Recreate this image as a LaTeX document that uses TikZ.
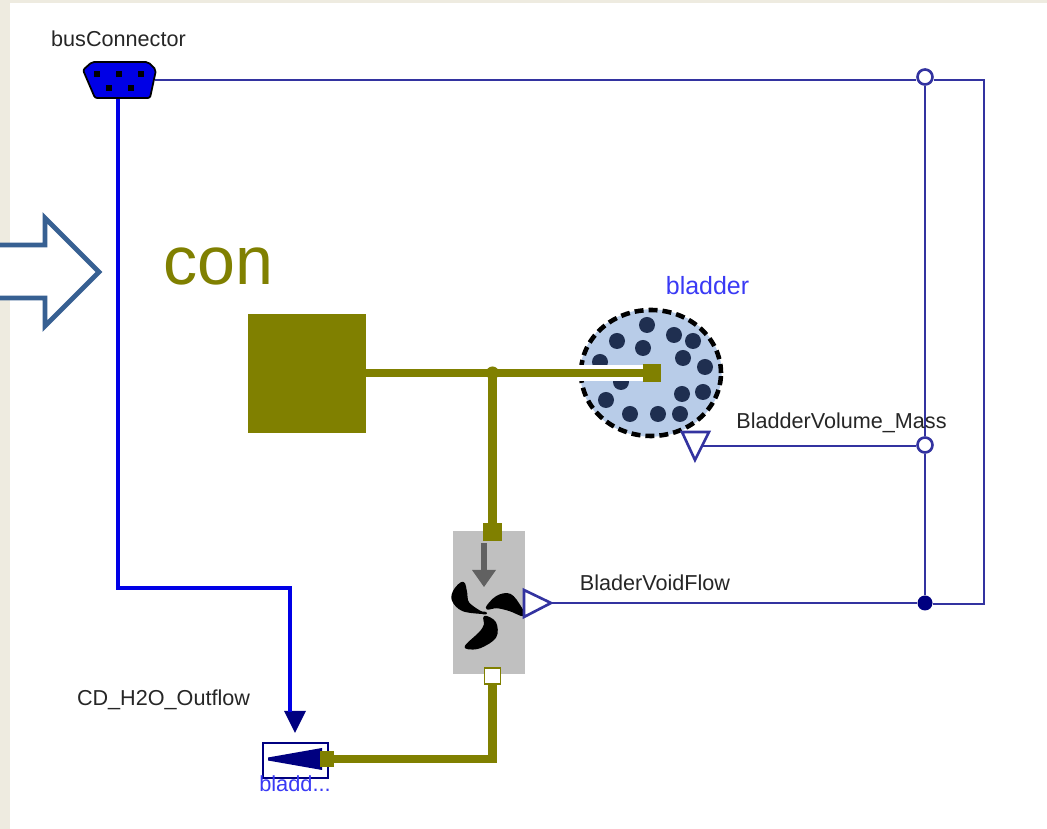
\documentclass[tikz,border=0pt]{standalone}
\usepackage{fontspec}
\setmainfont{Liberation Sans}
\usetikzlibrary{positioning, shapes.geometric}
\definecolor{pagebeige}{HTML}{EEEBE0}
\definecolor{conolive}{HTML}{808000}
\definecolor{signavy}{HTML}{3333A0}
\definecolor{iconnavy}{HTML}{000080}
\definecolor{busblue}{HTML}{0000E6}
\definecolor{namblue}{HTML}{3A3AF5}
\definecolor{bladfill}{HTML}{B8CCE8}
\definecolor{baldot}{HTML}{1F2F50}
\definecolor{fangray}{HTML}{C0C0C0}
\definecolor{callout}{HTML}{376092}
\tikzset{
	smalltext/.style={font=\fontsize{6.15}{7.5}\selectfont, text=black!85, inner sep=0pt},
	nametext/.style={font=\fontsize{7.1}{8.5}\selectfont, text=namblue, inner sep=0pt},
	sigline/.style={draw=signavy, line width=0.75pt},
	flowline/.style={draw=conolive, line width=2.3pt},
	busline/.style={draw=busblue, line width=1pt},
	portbox/.style={draw=conolive, fill=conolive, line width=0.4pt, inner sep=0pt, minimum size=0.17cm},
	junction/.style={circle, inner sep=0pt, minimum size=0.15cm},
	bladeshape/.style={fill=black, draw=black, line width=0.7pt, line join=round}
}
\newcommand{\ballat}[2]{\fill[baldot] (#1,#2) circle (0.08);}
\newcommand{\pinat}[2]{\fill[black] (#1,#2) +(-0.03,-0.03) rectangle +(0.03,0.03);}
\begin{document}
\begin{tikzpicture}
      \useasboundingbox (0,0) rectangle (10.47,-8.29);
      \fill[pagebeige] (0,0) rectangle (10.47,-8.29);
      \fill[white] (0.10,-0.03) rectangle (10.47,-8.29);
      % callout
      \draw[callout, line width=1.4pt, fill=white, miter limit=10] (-0.1,-2.45) -- (0.45,-2.45) -- (0.45,-2.18) -- (0.99,-2.72) -- (0.45,-3.26) -- (0.45,-2.98) -- (-0.1,-2.98);
      \node[font=\fontsize{19.4}{22}\selectfont, text=conolive, inner sep=0pt] (conLabel) at (2.18,-2.66) {con};
      % bus
      \draw[black, line width=0.5pt, fill=busblue, rounded corners=0.6pt] (0.92,-0.62) -- (1.48,-0.62) -- (1.56,-0.70) -- (1.50,-0.98) -- (0.95,-0.98) -- (0.83,-0.70) -- cycle;
      \node[inner sep=0pt, minimum width=0.72cm, minimum height=0.36cm] (busConnector) at (1.18,-0.80) {};
      \pinat{0.97}{-0.74} \pinat{1.19}{-0.74} \pinat{1.41}{-0.74} \pinat{1.09}{-0.88} \pinat{1.31}{-0.88}
      \node[smalltext] (busLabel) at (1.185,-0.39) {busConnector};
      % bladder
      \draw[bladfill, fill=bladfill] (6.51,-3.73) ellipse (0.70 and 0.63);
      \foreach \bx/\by in {6.47/3.25, 6.17/3.41, 6.43/3.48, 6.74/3.35, 6.93/3.41, 6.00/3.62, 6.83/3.58, 7.05/3.67, 6.21/3.82, 7.03/3.92, 6.82/3.94, 6.06/4.00, 6.30/4.14, 6.58/4.14, 6.80/4.14}
        \ballat{\bx}{-\by};
      \draw[black, line width=1.3pt, dash pattern=on 0.09cm off 0.05cm] (6.51,-3.73) ellipse (0.70 and 0.63);
      \fill[white] (5.72,-3.65) rectangle (6.43,-3.81);
      \node[nametext] (bladderLabel) at (7.075,-2.86) {bladder};
      % con source and wires
      \node[draw=conolive, fill=conolive, inner sep=0pt, minimum size=1.17cm] (conSquare) at (3.07,-3.735) {};
      \node[portbox] (bladderPort) at (6.52,-3.73) {};
      \node[junction, fill=conolive, minimum size=0.13cm] (flowJunc) at (4.925,-3.73) {};
      \draw[flowline] (conSquare.east |- bladderPort) -- (bladderPort);
      % fan
      \node[fill=fangray, inner sep=0pt, minimum width=0.72cm, minimum height=1.43cm] (fanBody) at (4.89,-6.025) {};
      \node[portbox] (fanTop) at (4.925,-5.32) {};
      \node[portbox, fill=white, minimum size=0.16cm] (fanBottom) at (4.925,-6.76) {};
      \draw[flowline] (flowJunc.center) -- (fanTop);
      \fill[black!62] (4.81,-5.43) rectangle (4.87,-5.71);
      \fill[black!62] (4.72,-5.70) -- (4.96,-5.70) -- (4.84,-5.87) -- cycle;
      \draw[bladeshape] plot[smooth cycle, tension=0.6] coordinates {(4.85,-6.13) (4.63,-6.10) (4.53,-6.00) (4.55,-5.90) (4.63,-5.83) (4.66,-5.93) (4.68,-6.03) (4.80,-6.12)};
      \draw[bladeshape] plot[smooth cycle, tension=0.6] coordinates {(4.87,-6.08) (4.97,-5.97) (5.10,-5.95) (5.20,-6.07) (5.23,-6.15) (5.10,-6.10) (4.97,-6.07)};
      \draw[bladeshape] plot[smooth cycle, tension=0.6] coordinates {(4.85,-6.17) (4.95,-6.23) (4.95,-6.37) (4.80,-6.47) (4.68,-6.48) (4.67,-6.45) (4.80,-6.33) (4.85,-6.25)};
      % outflow
      \node[draw=iconnavy, line width=0.6pt, fill=white, inner sep=0pt, minimum width=0.65cm, minimum height=0.35cm] (outBox) at (2.955,-7.605) {};
      \fill[iconnavy] (2.68,-7.575) -- (3.22,-7.48) -- (3.22,-7.70) -- (2.68,-7.605) -- cycle;
      \node[portbox, minimum width=0.13cm, minimum height=0.15cm] (outPort) at (3.27,-7.59) {};
      \draw[flowline] (fanBottom) -- (4.925,-7.59) -- (outPort);
      \node[nametext, font=\fontsize{6.2}{7.5}\selectfont] (outName) at (2.95,-7.84) {bladd...};
      \coordinate (outTip) at (2.95,-7.33);
      \fill[iconnavy] (2.84,-7.11) -- (3.06,-7.11) -- (outTip) -- cycle;
      \draw[busline] (busConnector.south) -- (1.18,-5.88) -- (2.90,-5.88) -- (2.90,-7.12);
      \node[smalltext] (outLabel) at (1.635,-7.00) {CD\_H2O\_Outflow};
      % signals
      \node[junction, draw=signavy, line width=0.75pt, fill=white] (juncTop) at (9.25,-0.77) {};
      \node[junction, draw=signavy, line width=0.75pt, fill=white] (juncMass) at (9.25,-4.45) {};
      \node[junction, fill=iconnavy] (juncVoid) at (9.25,-6.03) {};
      \coordinate (massIn) at (7.03,-4.46);
      \coordinate (voidOut) at (5.51,-6.03);
      \draw[sigline] (busConnector.east) -- (juncTop.west |- busConnector.east);
      \draw[sigline] (juncTop.east |- busConnector.east) -- (9.84,-0.80) -- (9.84,-6.04) -- (juncVoid.east |- 9.84,-6.04);
      \draw[sigline] (juncTop.south) -- (juncMass.north);
      \draw[sigline] (juncMass.south) -- (juncVoid.north);
      \draw[sigline] (juncMass.west |- massIn) -- (massIn);
      \draw[sigline] (juncVoid.west |- voidOut) -- (voidOut);
      \draw[sigline, fill=white] (6.82,-4.32) -- (7.09,-4.32) -- (6.95,-4.60) -- cycle;
      \draw[sigline, fill=white] (5.24,-5.90) -- (5.24,-6.17) -- (voidOut) -- cycle;
      \node[smalltext] (massLabel) at (8.415,-4.23) {BladderVolume\_Mass};
      \node[smalltext] (voidLabel) at (6.55,-5.83) {BladerVoidFlow};
\end{tikzpicture}
\end{document}
